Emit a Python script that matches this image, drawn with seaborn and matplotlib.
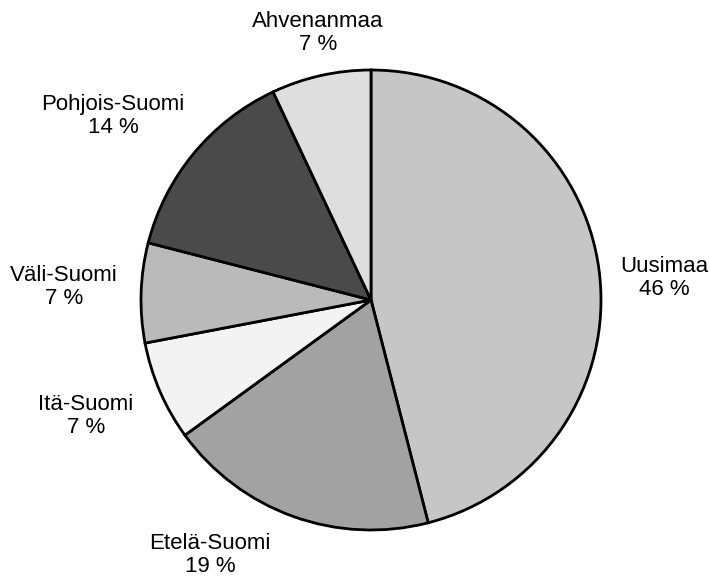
import matplotlib
matplotlib.use('Agg')

import matplotlib.pyplot as plt
import seaborn as sns
import numpy as np

# data
regions = ['Uusimaa', 'Etelä-Suomi', 'Itä-Suomi', 'Väli-Suomi', 'Pohjois-Suomi', 'Ahvenanmaa']
shares = [46, 19, 7, 7, 14, 7]
greys = ['#c6c6c6', '#a2a2a2', '#f3f3f3', '#bababa', '#4a4a4a', '#dedede']
# label placement: distance (in radii) and angle shift from wedge middle (deg)
label_dist = [1.277, 1.311, 1.338, 1.336, 1.378, 1.183]
label_shift = [-2.9, -12.5, -1.3, -0.6, 4.1, -1.4]


def plot_regions():
    sns.set_style('white')
    plt.rcParams['font.family'] = ['Liberation Sans', 'DejaVu Sans']

    fig = plt.figure(figsize=(7.1, 5.77), dpi=100)
    ax = fig.add_axes([0, 0, 1, 1])

    wedges, _ = ax.pie(shares, colors=greys, startangle=90, counterclock=False,
                       wedgeprops={'edgecolor': 'black', 'linewidth': 2.0})

    # labels outside, one per wedge
    for w, name, val, d, s in zip(wedges, regions, shares, label_dist, label_shift):
        ang = np.deg2rad((w.theta1 + w.theta2) / 2.0 + s)
        ax.text(d * np.cos(ang), d * np.sin(ang), '%s\n%d %%' % (name, val),
                ha='center', va='center', fontsize=16, color='black',
                linespacing=1.1)

    # center of pie at (371, 300) px, radius 230 px
    ax.set_xlim(-371 / 230.0, (710 - 371) / 230.0)
    ax.set_ylim(-(577 - 300) / 230.0, 300 / 230.0)
    ax.set_aspect('auto')
    ax.axis('off')

    fig.savefig('out.png', dpi=100)


if __name__ == "__main__":
    plot_regions()
